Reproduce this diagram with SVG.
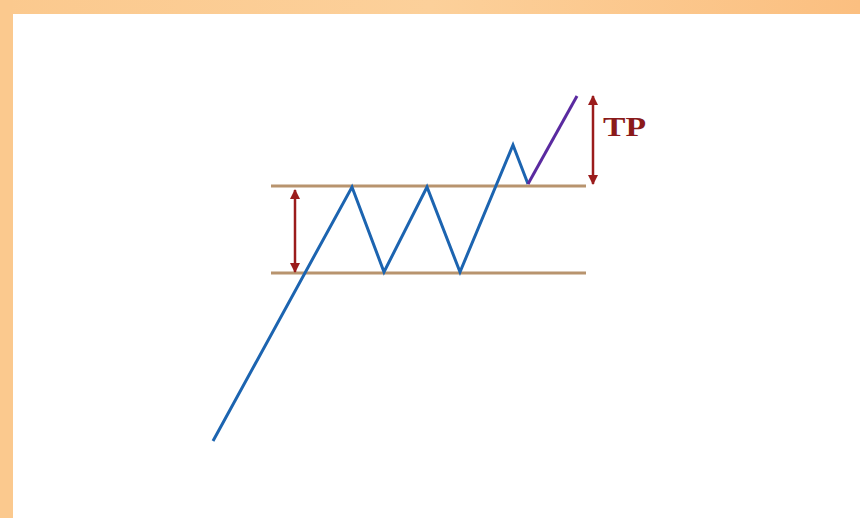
<svg xmlns="http://www.w3.org/2000/svg" width="860" height="518" viewBox="0 0 860 518">
<defs>
<linearGradient id="topband" x1="0" y1="0" x2="1" y2="0">
<stop offset="0" stop-color="#fbc98e"/>
<stop offset="0.5" stop-color="#fcd09a"/>
<stop offset="1" stop-color="#fbbf80"/>
</linearGradient>
<marker id="ah" viewBox="0 0 10 10" refX="9" refY="5" markerWidth="4" markerHeight="4" orient="auto-start-reverse">
<path d="M0,0 L10,5 L0,10 Z" fill="#9b1c1c"/>
</marker>
<style>
.level{stroke:#b8946e;stroke-width:3;fill:none}
.price{stroke:#1c64b0;stroke-width:3;fill:none;stroke-linejoin:miter}
.target{stroke:#5a2aa0;stroke-width:3;fill:none}
.meas{stroke:#9b1c1c;stroke-width:2.5;fill:none}
.lbl{font-family:"Liberation Serif",serif;font-weight:bold;font-size:27px;fill:#8a1a1a}
</style>
</defs>
<rect x="0" y="0" width="860" height="518" fill="#ffffff"/>
<rect x="0" y="0" width="860" height="14" fill="url(#topband)"/>
<rect x="0" y="0" width="13" height="518" fill="#fbc98e"/>
<g id="levels">
<line id="resistance" class="level" x1="271" y1="186" x2="586" y2="186"/>
<line id="support" class="level" x1="271" y1="273" x2="586" y2="273"/>
</g>
<g id="connectors">
<polyline id="price-path" class="price" points="213,441 352,187 384,272 427,187 460,272 513,145 528,184"/>
<line id="breakout-target" class="target" x1="528" y1="184" x2="577" y2="96"/>
<line id="range-height" class="meas" x1="295" y1="190" x2="295" y2="272" marker-start="url(#ah)" marker-end="url(#ah)"/>
<line id="tp-height" class="meas" x1="593" y1="96" x2="593" y2="184" marker-start="url(#ah)" marker-end="url(#ah)"/>
</g>
<g id="tp-label">
<text class="lbl" x="603" y="136" textLength="43" lengthAdjust="spacingAndGlyphs">TP</text>
</g>
</svg>
